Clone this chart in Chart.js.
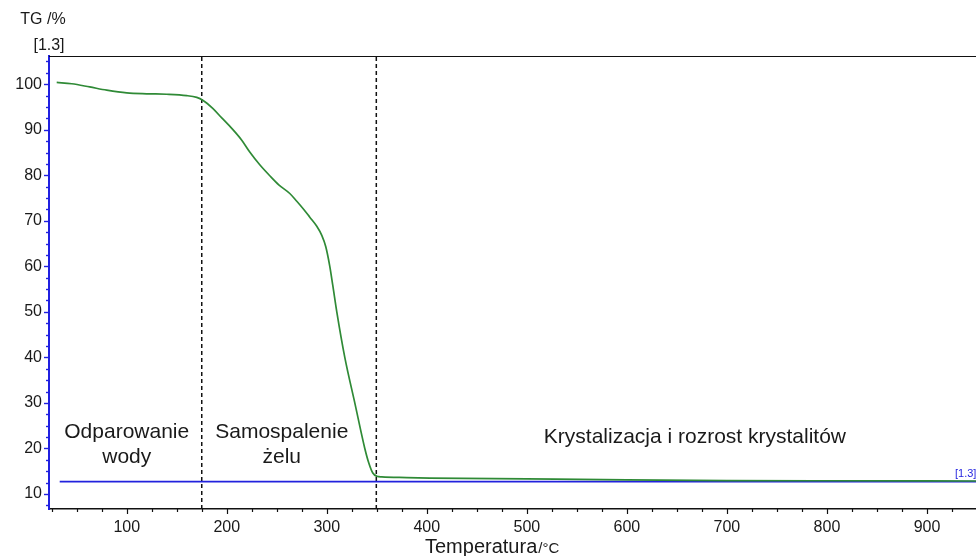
<!DOCTYPE html>
<html>
<head>
<meta charset="utf-8">
<script src="https://cdn.jsdelivr.net/npm/chart.js@4.4.0/dist/chart.umd.min.js"></script>
<style>
    html, body { margin: 0; padding: 0; background: #fff; }
    canvas { display: block; }
</style>
</head>
<body>
<canvas id="tgChart" width="976" height="556"></canvas>
<script>
// TG curve
const temps = [30, 45, 63, 80, 100, 120, 140, 160, 170, 176, 186, 195, 205, 215, 223, 233, 243, 252, 263, 270, 277, 283, 290, 295, 299, 303, 306, 310, 318, 328, 338, 342, 346, 350, 355, 380, 403, 500, 600, 700, 800, 949];
const tgValues = [100.4, 100.1, 99.4, 98.7, 98.1, 97.9, 97.8, 97.5, 97.1, 96.5, 94.7, 92.6, 90.3, 87.7, 85.1, 82.3, 79.9, 77.9, 76.0, 74.3, 72.5, 70.8, 68.8, 66.8, 64.3, 60.0, 55.8, 50.0, 40.0, 30.0, 20.0, 16.8, 14.6, 13.9, 13.75, 13.6, 13.5, 13.3, 13.1, 12.95, 12.9, 12.85];

// blue reference line
const baseTemps = [33, 949];
const baseValues = [12.7, 12.7];

// stage boundaries (dashed lines)
const dividers = [175, 349.5];

// axis ranges
const xMin = 22.3, xMax = 949;
const yMin = 6.7, yMax = 106.2;

const fontFamily = '"Liberation Sans", Arial, sans-serif';
Chart.defaults.font.family = fontFamily;

const toPoints = (xs, ys) => xs.map((x, i) => ({ x: x, y: ys[i] }));

const datasets = [
    {
        label: "TG",
        data: toPoints(temps, tgValues),
        borderColor: "#2f8a36",
        borderWidth: 1.7,
        pointRadius: 0,
        cubicInterpolationMode: "monotone",
    },
    {
        label: "baseline",
        data: toPoints(baseTemps, baseValues),
        borderColor: "#2222dd",
        borderWidth: 1.7,
        pointRadius: 0,
    },
];

dividers.forEach((t) => {
    datasets.push({
        label: "divider " + t,
        data: [{ x: t, y: yMin }, { x: t, y: yMax }],
        borderColor: "#111",
        borderWidth: 1.5,
        borderDash: [4, 3],
        pointRadius: 0,
    });
});

// extra drawing: top frame, tick marks, titles and stage labels
const decorations = {
    id: "decorations",
    afterDraw(chart) {
        const ctx = chart.ctx;
        const area = chart.chartArea;
        const xs = chart.scales.x;
        const ys = chart.scales.y;

        ctx.save();

        // top frame line
        ctx.strokeStyle = "#111";
        ctx.lineWidth = 1.2;
        ctx.beginPath();
        ctx.moveTo(area.left, area.top + 0.5);
        ctx.lineTo(area.right, area.top + 0.5);
        ctx.stroke();

        // x tick marks
        ctx.strokeStyle = "#111";
        ctx.lineWidth = 1.2;
        xs.ticks.forEach((tk) => {
            const px = Math.round(xs.getPixelForValue(tk.value)) + 0.5;
            const len = tk.value % 100 === 0 ? 5 : 3;
            ctx.beginPath();
            ctx.moveTo(px, area.bottom);
            ctx.lineTo(px, area.bottom + len);
            ctx.stroke();
        });

        // y tick marks
        ctx.strokeStyle = "#2020e0";
        ctx.lineWidth = 1.4;
        ys.ticks.forEach((tk) => {
            const py = Math.round(ys.getPixelForValue(tk.value)) + 0.5;
            const len = tk.value % 10 === 0 ? 5 : 3;
            ctx.beginPath();
            ctx.moveTo(area.left, py);
            ctx.lineTo(area.left - len, py);
            ctx.stroke();
        });

        // y axis title
        ctx.fillStyle = "#1a1a1a";
        ctx.textAlign = "center";
        ctx.textBaseline = "middle";
        ctx.font = "16px " + fontFamily;
        ctx.fillText("TG /%", 43, 20);
        ctx.fillText("[1.3]", 49, 46);

        // x axis title
        ctx.textAlign = "left";
        ctx.textBaseline = "alphabetic";
        ctx.font = "20px " + fontFamily;
        const mainTitle = "Temperatura";
        const titleX = 425;
        ctx.fillText(mainTitle, titleX, 553);
        const w = ctx.measureText(mainTitle).width;
        ctx.font = "15px " + fontFamily;
        ctx.fillText("/°C", titleX + w + 1, 553);

        // stage labels
        ctx.textAlign = "center";
        ctx.textBaseline = "middle";
        ctx.font = "21px " + fontFamily;
        ctx.fillText("Odparowanie", xs.getPixelForValue(100), ys.getPixelForValue(23.5));
        ctx.fillText("wody", xs.getPixelForValue(100), ys.getPixelForValue(18.0));
        ctx.fillText("Samospalenie", xs.getPixelForValue(255), ys.getPixelForValue(23.5));
        ctx.fillText("żelu", xs.getPixelForValue(255), ys.getPixelForValue(18.0));
        ctx.fillText("Krystalizacja i rozrost krystalitów", xs.getPixelForValue(668), ys.getPixelForValue(22.4));

        // curve tag at the right end
        ctx.fillStyle = "#2626e0";
        ctx.textAlign = "left";
        ctx.font = "11px " + fontFamily;
        ctx.fillText("[1.3]", xs.getPixelForValue(928), ys.getPixelForValue(14.5));

        ctx.restore();
    },
};

new Chart(document.getElementById("tgChart"), {
    type: "line",
    data: { datasets: datasets },
    options: {
        responsive: false,
        animation: false,
        layout: { padding: { top: 56, right: 0, left: 0, bottom: 0 } },
        plugins: {
            legend: { display: false },
            tooltip: { enabled: false },
        },
        scales: {
            x: {
                type: "linear",
                min: xMin,
                max: xMax,
                grid: { display: false, drawTicks: false },
                border: { display: true, color: "#111", width: 1.5 },
                ticks: {
                    stepSize: 25,
                    includeBounds: false,
                    autoSkip: false,
                    maxRotation: 0,
                    padding: 9,
                    color: "#1a1a1a",
                    font: { size: 16 },
                    callback: (v) => (v % 100 === 0 ? String(v) : ""),
                },
                afterFit: (scale) => { scale.height = 47; },
            },
            y: {
                type: "linear",
                min: yMin,
                max: yMax,
                grid: { display: false, drawTicks: false },
                border: { display: true, color: "#2020e0", width: 2 },
                ticks: {
                    stepSize: 2.5,
                    includeBounds: false,
                    autoSkip: false,
                    padding: 7,
                    color: "#1a1a1a",
                    font: { size: 16 },
                    callback: (v) => (v % 10 === 0 && v >= 10 && v <= 100 ? String(v) : ""),
                },
                afterFit: (scale) => { scale.width = 49; },
            },
        },
    },
    plugins: [decorations],
});
</script>
</body>
</html>
